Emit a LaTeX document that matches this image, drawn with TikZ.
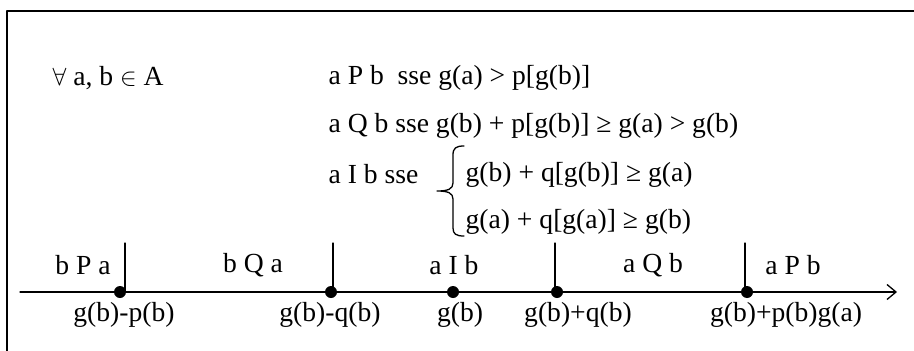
\documentclass[tikz,border=0pt]{standalone}
\usepackage{fontspec}
\setmainfont{Liberation Serif}
\usetikzlibrary{arrows.meta}
\begin{document}
\begin{tikzpicture}[x=1pt, y=-1pt, line width=1.3pt, line cap=round, line join=round,
  texto/.style={inner sep=0pt, anchor=west, font=\fontsize{27.6}{32}\selectfont},
  rotulo/.style={inner sep=0pt, font=\fontsize{27.6}{32}\selectfont},
  ponto/.style={circle, fill, inner sep=0pt, minimum size=12pt}]
  \useasboundingbox (0,0) rectangle (914,351);
  % a moldura
  \draw[line width=2.2pt, line cap=butt] (7,351) -- (7,11) -- (914,11);
  % as definicoes
  \node[texto] (todos) at (52,78) {$\forall$ a, b $\in$ A};
  \node[texto] (defP) at (328,78) {a P b \ sse g(a) > p[g(b)]};
  \node[texto] (defQ) at (328,126) {a Q b sse g(b) + p[g(b)] ≥ g(a) > g(b)};
  \node[texto] (defI) at (328,174) {a I b sse};
  \node[texto] (condA) at (465,175) {g(b) + q[g(b)] ≥ g(a)};
  \node[texto] (condB) at (465,222) {g(a) + q[g(a)] ≥ g(b)};
  \draw (464,146) .. controls (456,146) and (453,148) .. (453,155) -- (453,183)
    .. controls (453,189) and (448,191) .. (437,191)
    .. controls (448,191) and (453,193) .. (453,199) -- (453,228)
    .. controls (453,234) and (456,236) .. (464,236);
  % o eixo
  \coordinate (ini) at (20,292);
  \coordinate (fim) at (897,292);
  \draw[-{Straight Barb[length=9pt,width=15pt]}] (ini) -- (fim);
  \foreach \x/\nome in {125/p1, 333/q1, 555/q2, 745/p2} {
    \coordinate (t\nome) at (\x,243);
    \draw (t\nome) -- (t\nome |- ini);
  }
  \foreach \x/\nome in {120/p1, 331/q1, 453/g0, 557/q2, 747/p2}
    \node[ponto] (d\nome) at (\x,292) {};
  % as regioes
  \node[rotulo] (rbPa) at (83,265) {b P a};
  \node[rotulo] (rbQa) at (253,265) {b Q a};
  \node[rotulo] (raIb) at (454,265) {a I b};
  \node[rotulo] (raQb) at (653,265) {a Q b};
  \node[rotulo] (raPb) at (793,265) {a P b};
  % os limiares
  \node[rotulo] (lp1) at (124,315) {g(b)-p(b)};
  \node[rotulo] (lq1) at (330,315) {g(b)-q(b)};
  \node[rotulo] (lg0) at (460,315) {g(b)};
  \node[rotulo] (lq2) at (578,315) {g(b)+q(b)};
  \node[rotulo] (lp2) at (786,315) {g(b)+p(b)g(a)};
\end{tikzpicture}
\end{document}
